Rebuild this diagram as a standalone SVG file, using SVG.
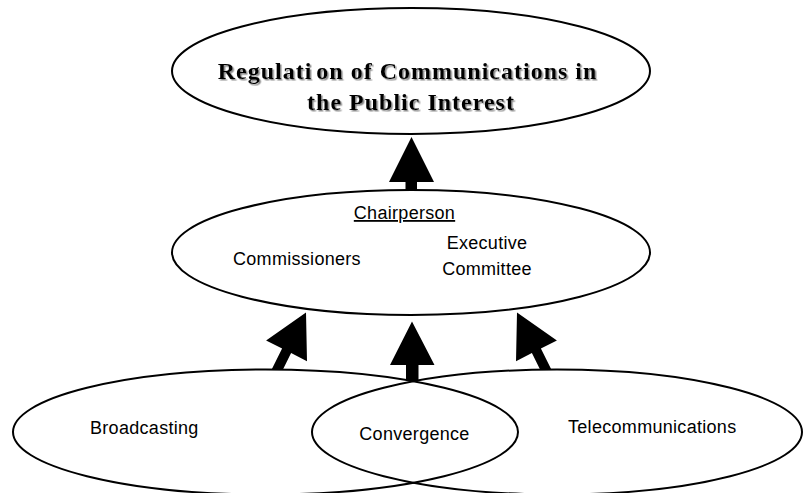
<svg xmlns="http://www.w3.org/2000/svg" width="804" height="493" viewBox="0 0 804 493">
  <defs>
    <style>
      .node { fill: #ffffff; stroke: #000000; stroke-width: 2; }
      .open { fill: none; stroke: #000000; stroke-width: 2; }
      .lbl { font-family: "Liberation Sans", Arial, sans-serif; font-size: 18px; letter-spacing: 0.3px; fill: #000000; }
      .title { font-family: "Liberation Serif", "Times New Roman", serif; font-size: 24px; font-weight: bold; letter-spacing: 1px; fill: #000000; }
      .arrow { fill: #000000; stroke: none; }
    </style>
    <filter id="shadow" x="-10%" y="-30%" width="120%" height="160%">
      <feDropShadow dx="1.5" dy="1.5" stdDeviation="0.6" flood-color="#808080" flood-opacity="0.9"/>
    </filter>
  </defs>
  <rect x="0" y="0" width="804" height="493" fill="#ffffff"/>

  <g id="regulation">
    <ellipse class="node" cx="411" cy="71" rx="239" ry="63"/>
    <text class="title" filter="url(#shadow)" text-anchor="middle">
      <tspan x="411" y="79">Regulati<tspan dx="4">on of Communications in</tspan></tspan>
      <tspan x="411" y="110">the Public Interest</tspan>
    </text>
  </g>

  <g id="commission">
    <ellipse class="node" cx="411" cy="252.5" rx="239" ry="62.5"/>
    <text class="lbl" x="404.5" y="219" text-anchor="middle" text-decoration="underline">Chairperson</text>
    <text class="lbl" x="233" y="265">Commissioners</text>
    <text class="lbl" x="487" y="249" text-anchor="middle">Executive</text>
    <text class="lbl" x="487" y="275" text-anchor="middle">Committee</text>
  </g>

  <g id="broadcasting">
    <ellipse class="open" cx="265.5" cy="432" rx="252.5" ry="62.5"/>
    <text class="lbl" x="90" y="434">Broadcasting</text>
  </g>

  <g id="telecommunications">
    <ellipse class="open" cx="557" cy="432" rx="245" ry="62.5"/>
    <text class="lbl" x="568" y="433">Telecommunications</text>
  </g>

  <g id="convergence">
    <text class="lbl" x="414.5" y="440" text-anchor="middle">Convergence</text>
  </g>

  <g id="connectors">
    <polygon class="arrow" points="411.5,137 434,182 417,182 417,190 405.5,190 405.5,182 389,182"/>
    <polygon class="arrow" points="412,321.5 434.5,365 418.5,365 418.5,381 406,381 406,365 390,365"/>
    <polygon class="arrow" points="306,312.5 307,361.3 291.1,353.1 282.7,370 271.4,370 282.1,348.6 266.1,340.5"/>
    <polygon class="arrow" points="517,312.5 516,361.3 531.9,353.1 540.3,370 551.6,370 540.9,348.6 556.9,340.5"/>
  </g>
</svg>
